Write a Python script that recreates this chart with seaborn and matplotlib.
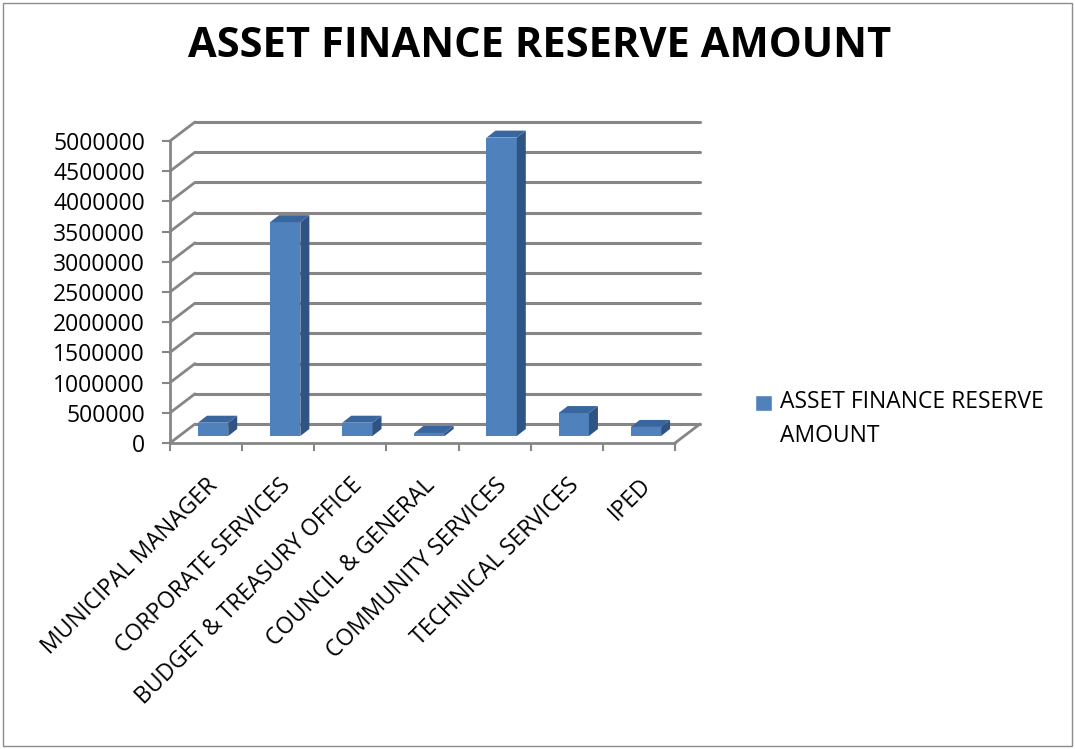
import numpy as np
import pandas as pd
import seaborn as sns
import matplotlib.pyplot as plt
from matplotlib.lines import Line2D
from matplotlib.patches import Polygon, Rectangle
from matplotlib.transforms import IdentityTransform, ScaledTranslation

categories = ['MUNICIPAL MANAGER', 'CORPORATE SERVICES', 'BUDGET & TREASURY OFFICE',
              'COUNCIL & GENERAL', 'COMMUNITY SERVICES', 'TECHNICAL SERVICES', 'IPED']
amounts = [220000, 3540000, 220000, 50000, 4940000, 380000, 150000]
y_ticks = np.arange(0, 5000001, 500000)
series_name = 'ASSET FINANCE RESERVE AMOUNT'

sns.set_theme(style='white')
plt.rcParams['font.family'] = ['Open Sans', 'DejaVu Sans']
plt.rcParams['text.color'] = 'black'

W, H, DPI = 1075, 749, 100
fig = plt.figure(figsize=(W / DPI, H / DPI), dpi=DPI)
# front plane of the 3d box, in pixels
left, right, bottom, top = 170, 675, 443, 141
ax = fig.add_axes([left / W, 1 - bottom / H, (right - left) / W, (bottom - top) / H])

df = pd.DataFrame({'dept': categories, 'amount': amounts})

front = '#4F81BD'
side = '#2F5382'
roof = '#3A66A0'
grid_c = '#868686'

sns.barplot(data=df, x='dept', y='amount', color=front, width=0.42, ax=ax,
            saturation=1, edgecolor='none')
ax.set_xlim(-0.5, len(categories) - 0.5)
ax.set_ylim(0, 5000000)
for s in ax.spines.values():
    s.set_visible(False)
ax.set_xlabel('')
ax.set_ylabel('')
ax.patch.set_alpha(0)

# depth offsets (pixels)
wall_dx, wall_dy = 25, 19     # back wall
bar_dx, bar_dy = 7, 7         # bar front face sits in the middle of the floor
dep_dx, dep_dy = 9, 7         # bar depth

ident = IdentityTransform()
to_px = ax.transData.transform

def line(xs, ys, **kw):
    ax.add_line(Line2D(xs, ys, transform=ident, clip_on=False, **kw))

# walls and gridlines
for v in y_ticks:
    x0, y0 = to_px((-0.5, v))
    x1, _ = to_px((len(categories) - 0.5, v))
    line([x0, x0 + wall_dx], [y0, y0 + wall_dy], color=grid_c, lw=2.0, zorder=1)
    line([x0 + wall_dx, x1 + wall_dx], [y0 + wall_dy, y0 + wall_dy], color=grid_c, lw=2.2, zorder=1)
x0, y0 = to_px((-0.5, 0))
x1, _ = to_px((len(categories) - 0.5, 0))
_, yt = to_px((-0.5, 5000000))
line([x0, x0], [y0, yt], color=grid_c, lw=2.0, zorder=1)
line([x0, x1], [y0, y0], color=grid_c, lw=2.0, zorder=1)
line([x1, x1 + wall_dx], [y0, y0 + wall_dy], color=grid_c, lw=2.0, zorder=1)

# bars: shift front face back, add side and top faces
shift = ScaledTranslation(bar_dx / DPI, bar_dy / DPI, fig.dpi_scale_trans)
for p in ax.patches:
    p.set_transform(ax.transData + shift)
    p.set_zorder(3)
    p.set_clip_on(False)
    bx, bh, bw = p.get_x(), p.get_height(), p.get_width()
    (ax0, ay0), (ax1, ay1) = to_px([(bx, 0), (bx + bw, bh)])
    ax0 += bar_dx; ax1 += bar_dx; ay0 += bar_dy; ay1 += bar_dy
    ax.add_patch(Polygon([(ax1, ay0), (ax1 + dep_dx, ay0 + dep_dy), (ax1 + dep_dx, ay1 + dep_dy), (ax1, ay1)],
                         closed=True, facecolor=side, edgecolor='none', transform=ident, zorder=3, clip_on=False))
    ax.add_patch(Polygon([(ax0, ay1), (ax1, ay1), (ax1 + dep_dx, ay1 + dep_dy), (ax0 + dep_dx, ay1 + dep_dy)],
                         closed=True, facecolor=roof, edgecolor='none', transform=ident, zorder=3, clip_on=False))

# ticks
ax.set_yticks(y_ticks)
ax.set_yticklabels([str(v) for v in y_ticks])
ax.set_xticks(np.arange(-0.5, len(categories)), minor=True)
ax.set_xticks(np.arange(len(categories)))
ax.set_xticklabels(categories, rotation=45, ha='right', rotation_mode='anchor')
ax.tick_params(axis='y', which='major', left=True, length=6, width=1.5, color=grid_c,
               labelsize=16.5, pad=12, labelcolor='black')
ax.tick_params(axis='x', which='major', bottom=False, labelsize=16.5, pad=16, labelcolor='black')
ax.tick_params(axis='x', which='minor', bottom=True, length=6, width=1.5, color=grid_c)

fig.suptitle(series_name, x=0.502, y=0.965, fontsize=30, fontweight='bold', va='top', color='black')

# legend
handle = Rectangle((0, 0), 1, 1, facecolor=front)
leg = fig.legend([handle], ['ASSET FINANCE RESERVE\nAMOUNT'], loc='center left',
                 bbox_to_anchor=(0.683, 0.44), frameon=False, fontsize=16.5,
                 handlelength=0.75, handleheight=0.75, handletextpad=0.35)
for t in leg.get_texts():
    t.set_linespacing(1.55)
# put the swatch next to the first line, as Excel does
sw = leg.legend_handles[0]
sw.set_y(sw.get_y() + 12.5)

fig.add_artist(Rectangle((0.003, 0.004), 0.994, 0.992, transform=fig.transFigure,
                         fill=False, edgecolor='#8c8c8c', lw=1))

fig.savefig('out.png', dpi=DPI)
